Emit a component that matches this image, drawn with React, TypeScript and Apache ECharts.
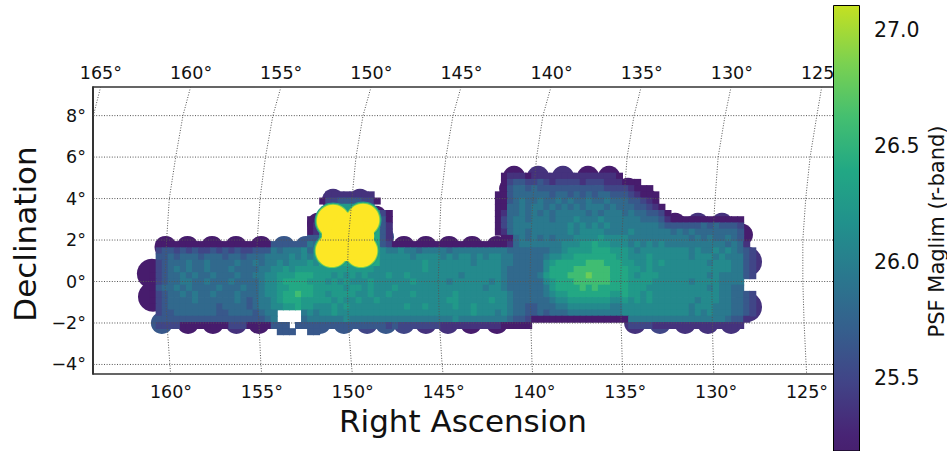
import React, { useEffect, useRef } from "react";
import * as echarts from "echarts";

// Map cells: one string per declination row, groups of ten RA columns; "." = no coverage
const levelChars = "0123456789aY";
const magLevels = [25.2, 25.35, 25.5, 25.65, 25.8, 25.95, 26.1, 26.25, 26.4, 26.6, 26.8, 27.31];
const cellRaStart = 161.65;
const cellRaStep = 1 / 3;
const cellDecStart = 5.38;
const cellDecStep = 0.3;
const mapRows = [
  ".",
  ". . . . . . 0111011111 1111111110",
  ". . . . . . 0233223212 2221222111 000",
  ". . . . . . 0344343333 3333333222 21000",
  ". . . .11111111. . .........0 0344444434 4343434433 321000",
  ". . . 0223333220 . .........0 0345445445 4544544544 433210",
  ". . . .47777774. . .........0 0445455454 5454555454 4433210",
  ". . . 6788888876 20 .........0 1445454545 5555454555 45443320",
  ". . ........00 8888888888 30 .........0 2455455545 5565556555 5554443100 0000000000",
  ". . ........01 8888888888 31 .........0 2455555555 5656565655 5555554333 3334343332",
  ". . ........01 8888888888 31 .........0 1455455555 5656666555 5655555545 4544444443",
  ". . ........33 8888888888 31 . 0045454545 5566667666 6555555555 5454544543",
  "...0000000 0000000000 0033333354 8888888888 3200000000 0000000000 0145555555 6667787766 6565656555 5555555454 1",
  "...2332323 2232323223 3354555645 8888888888 6556554555 5455555555 5444444455 6777788877 7656666666 6565565654 32",
  "...3343444 3444344344 4555565656 8888888888 6666656666 5656656566 5544444566 7788888887 7666766666 6566656555 32",
  "..02344454 4544445445 4556566676 8888888888 6666666766 6666656666 5544444678 8888999888 7766767666 6666566655 32",
  "..02345454 4544454444 5566767777 7777777776 6666666766 6666666666 5444444688 8899999988 8776766666 6666666655 32",
  "..02344545 4454445445 5667778887 7767676766 6766766666 6665666666 5444445788 8999a99988 8767776666 6666565555 32",
  "..02344554 4544454444 5667888877 7676766676 6666676666 6566666656 5444444678 8899999988 8777766666 6566665555",
  "..03445454 4445444544 5667788887 7777677676 6676666666 6666666566 5444444578 8889898888 8777666666 6666565544",
  "..02344545 4454445444 5667889887 7677776676 6766676666 6676666666 6544444567 7888888877 8776766666 6666665544 32",
  "..02344445 4444445434 5567888777 7767667667 6666666666 6776666676 6544444456 6777777766 7676766666 6656665544 32",
  "..02344444 4443444434 5566778776 6676766666 6666766766 6676676666 6544334445 5666666655 6666666666 6566655544 32",
  "...2334444 4443344443 455....565 6676666666 6666666666 6666676665 6544334344 4555555555 6666666666 6565655544 32",
  "...3333333 3333333333 345....455 5555655555 5555555555 5565555555 5433200000 0000000000 0555555555 5555555433 1",
  "...2222000 0000022200 00333.3333 3333333333 3232222222 1111111111 00000 . .222211111 1111111111",
  ". . ...333..33",
];

// Survey pointings round the footprint's edge: [RA, Dec, PSF maglim]
const edgePointings = [
  [160.3, 1.67, 25.2], [159.09, 1.67, 25.2], [157.74, 1.67, 25.2], [156.42, 1.67, 25.2], [155.04, 1.67, 25.2],
  [153.78, 1.67, 25.65], [152.57, 1.67, 25.65],
  [147.18, 1.67, 25.2], [145.97, 1.67, 25.2], [144.7, 1.67, 25.2], [143.43, 1.67, 25.2], [142.06, 1.67, 25.2],
  [160.5, -2, 25.65], [159.06, -2, 25.2], [157.69, -2, 25.2], [156.4, -2, 25.35], [155.16, -2, 25.2],
  [151.8, -2, 25.65], [150.48, -2, 25.65], [149.21, -2, 25.5], [148.17, -2, 25.65], [147.18, -2, 25.5],
  [145.97, -2, 25.35], [144.76, -2, 25.35], [143.49, -2, 25.2], [142.06, -2, 25.2],
  [134.46, -2, 25.35], [133.09, -2, 25.5], [131.71, -2, 25.35], [130.45, -2, 25.35], [129.18, -2, 25.35],
  [141.12, 5.05, 25.2], [139.8, 5.05, 25.35], [138.43, 5.05, 25.35], [137.05, 5.05, 25.2], [135.89, 5.05, 25.2],
  [134.85, 4.47, 25.2], [133.8, 3.94, 25.2], [133.75, 3.45, 25.2],
  [141.34, 4.47, 25.2], [141.34, 3.36, 25.2], [141.29, 2.39, 25.2],
  [132.26, 2.78, 25.2], [131, 2.78, 25.35], [129.68, 2.78, 25.35], [128.58, 2.25, 25.2],
  [151.08, 3.94, 25.35], [149.6, 3.94, 25.35], [151.91, 2.78, 25.2], [148.72, 3.12, 25.2], [148.33, 2.15, 25.65],
];
const endPointings = [
  [161.05, 0.37, 25.2], [160.99, -0.74, 25.2], [128.3, 0.95, 25.35], [128.3, -1.23, 25.35],
];
const deepOuterHalo = [
  [151.08, 2.92, 26.3], [149.43, 2.97, 26.3], [151.14, 1.48, 26.3], [149.54, 1.48, 26.3],
];
const deepInnerHalo = [
  [151.08, 2.92, 26.85], [149.43, 2.97, 26.85], [151.14, 1.48, 26.85], [149.54, 1.48, 26.85],
];
const deepPointings = [
  [151.08, 2.92, 27.31], [149.43, 2.97, 27.31], [151.14, 1.48, 27.31], [149.54, 1.48, 27.31], [150.3, 2.2, 27.31],
  [150.81, 2.2, 27.31], [149.71, 2.2, 27.31], [150.26, 2.54, 27.31], [150.31, 1.77, 27.31],
];

// Graticule, in axis units
const parallelDecs = [8, 6, 4, 2, 0, -2, -4];
const meridianDecs = [9.38, 8, 6, 4, 2, 0, -2, -4, -4.46];
const meridian165 = [163.87, 164.27];
const meridian160 = [158.92, 159.34, 159.74, 160.09, 160.24, 160.33, 160.22, 160.06, 160.02];
const meridian155 = [153.95, 154.39, 154.8, 155.1, 155.25, 155.31, 155.16, 155.05, 155.01];
const meridian150 = [148.99, 149.43, 149.82, 150.04, 150.24, 150.3, 150.24, 150.07, 150.02];
const meridian145 = [144.04, 144.48, 144.87, 145.14, 145.23, 145.29, 145.23, 145.08, 145.03];
const meridian140 = [139.09, 139.53, 139.88, 140.08, 140.2, 140.24, 140.2, 140.13, 140.1];
const meridian135 = [134.13, 134.52, 134.9, 135.07, 135.2, 135.25, 135.23, 135.16, 135.14];
const meridian130 = [129.18, 129.51, 129.89, 130.06, 130.19, 130.24, 130.21, 130.15, 130.13];
const meridian125 = [124.19, 124.46, 124.83, 125.07, 125.23, 125.23, 125.16, 125.05, 125.02];
const meridians = [meridian165, meridian160, meridian155, meridian150, meridian145, meridian140, meridian135, meridian130, meridian125];

const bottomRaTicks = [160, 155, 150, 145, 140, 135, 130, 125];
const topRaTicks = [165, 160, 155, 150, 145, 140, 135, 130, 125];
const decTicks = [8, 6, 4, 2, 0, -2, -4];
const colorbarTicks = [25.5, 26, 26.5, 27];

const viridis = ["#440154", "#482475", "#414487", "#355f8d", "#2a788e", "#21918c", "#22a884", "#44bf70", "#7ad151", "#bddf26", "#fde725"];
const colorbarStops = [
  { offset: 0, color: "#c8e020" },
  { offset: 0.012, color: "#bddf26" },
  { offset: 0.131, color: "#7ad151" },
  { offset: 0.25, color: "#44bf70" },
  { offset: 0.369, color: "#22a884" },
  { offset: 0.488, color: "#21918c" },
  { offset: 0.607, color: "#2a788e" },
  { offset: 0.726, color: "#355f8d" },
  { offset: 0.845, color: "#414487" },
  { offset: 0.964, color: "#482475" },
  { offset: 1, color: "#47206f" },
];

const FONT = "DejaVu Sans";
const RA_MIN = 123.57;
const RA_MAX = 164.29;
const DEC_MIN = -4.46;
const DEC_MAX = 9.38;

function buildCells() {
  const cells: number[][] = [];
  mapRows.forEach((row, r) => {
    row.split(" ").forEach((group, g) => {
      for (let j = 0; j < group.length; j++) {
        const idx = levelChars.indexOf(group[j]);
        if (idx < 0) continue;
        const c = g * 10 + j;
        cells.push([cellRaStart - c * cellRaStep, cellDecStart - r * cellDecStep, magLevels[idx]]);
      }
    });
  });
  return cells;
}

export default function App() {
  const ref = useRef<HTMLDivElement>(null);
  useEffect(() => {
    document.body.style.margin = "0";
    const chart = echarts.init(ref.current!, undefined, { renderer: "svg" });
    const dotted = { color: "#555", width: 1, type: [1, 1.6] as any };
    const graticule: any[] = [
      ...parallelDecs.map((d) => ({
        type: "line", silent: true, symbol: "none", z: 7, xAxisIndex: 0, yAxisIndex: 0,
        data: [[RA_MIN, d], [RA_MAX, d]], lineStyle: dotted,
      })),
      ...meridians.map((m) => ({
        type: "line", silent: true, symbol: "none", z: 7, xAxisIndex: 0, yAxisIndex: 0,
        data: m.map((ra, i) => [ra, meridianDecs[i]]), lineStyle: dotted,
      })),
    ];
    const disc = (data: number[][], size: number, z: number) => ({
      type: "scatter", xAxisIndex: 0, yAxisIndex: 0, data, symbol: "circle", symbolSize: size, silent: true, z,
      itemStyle: { opacity: 1 },
    });
    chart.setOption({
      animation: false,
      textStyle: { fontFamily: FONT },
      grid: [
        { left: 93, top: 87, width: 740, height: 287, show: false, outerBoundsMode: "none" },
        { left: 833, top: 5, width: 27, height: 446, show: false, outerBoundsMode: "none" },
      ],
      xAxis: [
        {
          type: "value", gridIndex: 0, position: "bottom", inverse: true, min: RA_MIN, max: RA_MAX,
          splitLine: { show: false }, axisTick: { show: false },
          axisLine: { onZero: false, lineStyle: { color: "#333", width: 1.6 } },
          axisLabel: { customValues: bottomRaTicks, formatter: (v: number) => `${v}°`, color: "#111", fontSize: 17.5, margin: 9, fontFamily: FONT, hideOverlap: false },
          name: "Right Ascension", nameLocation: "middle", nameGap: 31,
          nameTextStyle: { fontSize: 31, color: "#111", fontFamily: FONT },
        },
        {
          type: "value", gridIndex: 0, position: "top", inverse: true, min: 124.39, max: 165.44,
          splitLine: { show: false }, axisTick: { show: false },
          axisLine: { onZero: false, lineStyle: { color: "#333", width: 1.6 } },
          axisLabel: { customValues: topRaTicks, formatter: (v: number) => `${v}°`, color: "#111", fontSize: 17.5, margin: 5, fontFamily: FONT, hideOverlap: false },
        },
        {
          type: "category", gridIndex: 1, data: ["PSF"], show: false,
        },
      ],
      yAxis: [
        {
          type: "value", gridIndex: 0, min: DEC_MIN, max: DEC_MAX,
          splitLine: { show: false }, axisTick: { show: false },
          axisLine: { onZero: false, lineStyle: { color: "#000", width: 1.6 } },
          axisLabel: { customValues: decTicks, formatter: (v: number) => `${v < 0 ? "−" + -v : v}°`, color: "#111", fontSize: 17.5, margin: 7, fontFamily: FONT, hideOverlap: false },
          name: "Declination", nameLocation: "middle", nameGap: 51,
          nameTextStyle: { fontSize: 31, color: "#111", fontFamily: FONT, padding: [0, 7, 0, 0] },
        },
        {
          type: "value", gridIndex: 1, position: "right", min: 25.185, max: 27.108,
          splitLine: { show: false },
          axisLine: { onZero: false, lineStyle: { color: "#000", width: 1 } },
          axisTick: { customValues: colorbarTicks, length: 6, lineStyle: { color: "#000", width: 1 } },
          axisLabel: { customValues: colorbarTicks, formatter: (v: number) => v.toFixed(1), color: "#111", fontSize: 20.5, margin: 14, fontFamily: FONT, hideOverlap: false },
          name: "PSF Maglim (r-band)", nameLocation: "middle", nameGap: 66,
          nameTextStyle: { fontSize: 21, color: "#111", fontFamily: FONT, padding: [0, 7, 0, 0] },
        },
      ],
      visualMap: {
        show: false, seriesIndex: [0, 1, 2, 3, 4, 5], dimension: 2, min: 25.025, max: 27.31,
        inRange: { color: viridis },
      },
      series: [
        {
          type: "scatter", xAxisIndex: 0, yAxisIndex: 0, data: buildCells(), symbol: "rect",
          symbolSize: [7, 7], silent: true, z: 2, itemStyle: { opacity: 1 },
        },
        disc(edgePointings, 22, 1),
        disc(endPointings, 30, 1),
        disc(deepOuterHalo, 37, 3),
        disc(deepInnerHalo, 34.5, 4),
        disc(deepPointings, 32.5, 5),
        ...graticule,
        {
          type: "bar", xAxisIndex: 2, yAxisIndex: 1, data: [27.108], barWidth: "100%", silent: true, z: 10,
          itemStyle: {
            color: new echarts.graphic.LinearGradient(0, 0, 0, 1, colorbarStops),
            borderColor: "#000", borderWidth: 1,
          },
        },
      ],
    });
    return () => chart.dispose();
  }, []);
  return <div ref={ref} style={{ position: "absolute", left: 0, top: 0, width: 947, height: 451 }} />;
}
